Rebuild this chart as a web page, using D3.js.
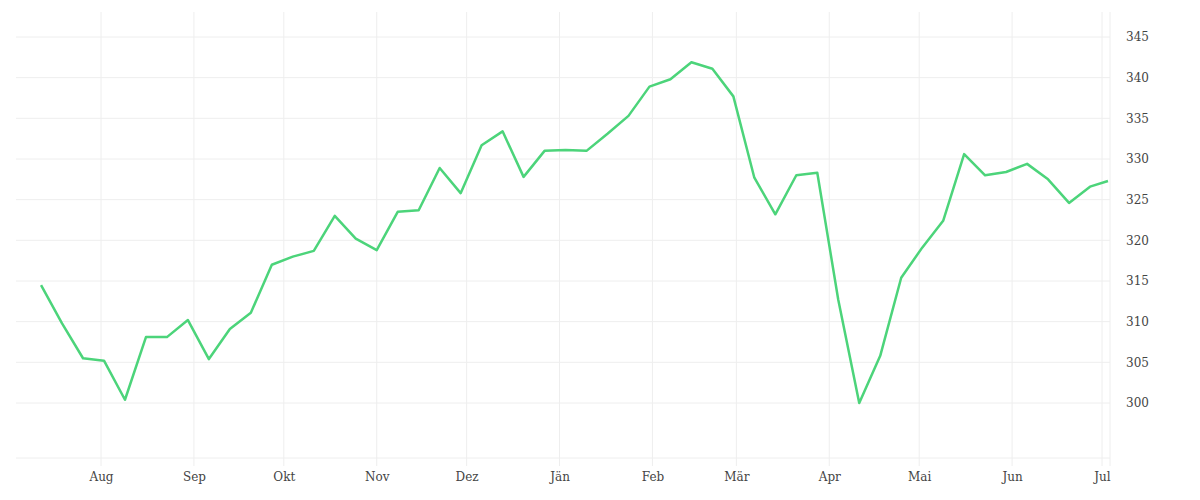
<!DOCTYPE html>
<html><head><meta charset="utf-8">
<script src="https://cdn.jsdelivr.net/npm/d3@7"></script>
<style>body{margin:0;background:#fff}text{font-family:"DejaVu Serif","Liberation Serif",serif;font-size:12px;fill:#444}</style>
</head><body><svg id="c" width="1200" height="500"></svg>
<script>
const values=[314.5,309.8,305.5,305.2,300.4,308.1,308.1,310.2,305.4,309.1,311.1,317.0,318.0,318.7,323.0,320.2,318.8,323.5,323.7,328.9,325.8,331.7,333.4,327.8,331.0,331.1,331.0,333.1,335.3,338.9,339.8,341.9,341.1,337.7,327.7,323.2,328.0,328.3,312.7,300.0,305.8,315.4,319.1,322.4,330.6,328.0,328.4,329.4,327.5,324.6,326.6,327.3];
const firstDate="2022-07-12";
const lastDate="2023-07-03";
const yTicks=[300,305,310,315,320,325,330,335,340,345];
const monthLabels=["Aug","Sep","Okt","Nov","Dez","Jän","Feb","Mär","Apr","Mai","Jun","Jul"];
const parse=d3.timeParse("%Y-%m-%d");
// weekly dates except final point
const dates=[];
let d=parse(firstDate);
for(let i=0;i<values.length-1;i++){dates.push(d);d=d3.timeDay.offset(d,7);}
dates.push(parse(lastDate));
const data=values.map((v,i)=>({d:dates[i],v}));
const svg=d3.select("#c");
const L=16,R=1110,T=12,B=458;
const x=d3.scaleTime().domain([parse("2022-08-01"),parse("2023-07-01")]).range([101,1102]);
const y=d3.scaleLinear().domain([300,345]).range([403,37]);
const months=d3.timeMonth.range(parse("2022-08-01"),parse("2023-07-02"));
const g=svg.append("g");
g.selectAll(".hg").data(yTicks).join("line").attr("x1",L).attr("x2",R).attr("y1",d=>y(d)).attr("y2",d=>y(d)).attr("stroke","#eee");
g.append("line").attr("x1",L).attr("x2",R).attr("y1",B).attr("y2",B).attr("stroke","#eee");
g.selectAll(".vg").data(months).join("line").attr("x1",d=>x(d)).attr("x2",d=>x(d)).attr("y1",T).attr("y2",B+8).attr("stroke","#eee");
g.append("line").attr("x1",R).attr("x2",R).attr("y1",T).attr("y2",B+8).attr("stroke","#eee");
svg.append("g").attr("transform",`translate(0,${B})`).call(d3.axisBottom(x).tickValues(months).tickFormat((d,i)=>monthLabels[i]).tickSize(0).tickPadding(14)).call(a=>a.select(".domain").remove()).selectAll("text").style("font-family",'"DejaVu Serif",serif').style("font-size","12px").style("fill","#444");
svg.append("g").attr("transform",`translate(${R+16},0)`).call(d3.axisRight(y).tickValues(yTicks).tickSize(0).tickPadding(0)).call(a=>a.select(".domain").remove()).selectAll("text").style("font-family",'"DejaVu Serif",serif').style("font-size","12px").style("fill","#444");
svg.append("path").datum(data).attr("fill","none").attr("stroke","#4cd47a").attr("stroke-width",2.5).attr("stroke-linejoin","round")
 .attr("d",d3.line().x(d=>x(d.d)).y(d=>y(d.v)));
</script></body></html>
